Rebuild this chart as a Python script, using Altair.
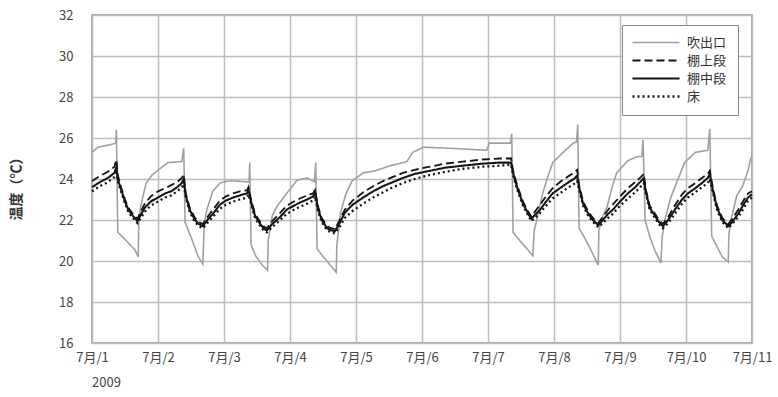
import json
import altair as alt
import pandas as pd

# ---- data ----
series_names = ["吹出口", "棚上段", "棚中段", "床"]

outlet_day = [0.00, 0.09, 0.24, 0.36, 0.37, 0.39, 0.50, 0.65, 0.70, 0.71, 0.74, 0.82, 0.91, 1.03,
              1.15, 1.36, 1.39, 1.41, 1.52, 1.61, 1.68, 1.70, 1.74, 1.83, 1.94, 2.05, 2.18, 2.38,
              2.39, 2.41, 2.48, 2.58, 2.66, 2.67, 2.73, 2.80, 2.95, 3.11, 3.26, 3.37, 3.39, 3.41,
              3.48, 3.56, 3.70, 3.71, 3.77, 3.85, 3.94, 4.11, 4.29, 4.52, 4.77, 4.86, 5.02, 5.42,
              5.98, 6.02, 6.34, 6.36, 6.38, 6.48, 6.59, 6.68, 6.70, 6.74, 6.82, 6.89, 6.98, 7.14,
              7.29, 7.34, 7.36, 7.38, 7.47, 7.58, 7.67, 7.68, 7.73, 7.80, 7.88, 7.95, 8.12, 8.27,
              8.33, 8.35, 8.38, 8.45, 8.53, 8.62, 8.64, 8.68, 8.76, 8.83, 8.98, 9.14, 9.33, 9.36,
              9.39, 9.47, 9.55, 9.64, 9.65, 9.68, 9.77, 9.85, 9.94, 9.98, 10.00]
outlet_temp = [25.3, 25.55, 25.65, 25.75, 26.4, 21.4, 21.05, 20.55, 20.2, 22.0, 22.7, 23.8, 24.2, 24.5,
               24.8, 24.85, 25.5, 21.9, 21.0, 20.2, 19.85, 21.8, 22.5, 23.4, 23.8, 23.9, 23.9, 23.85,
               24.8, 20.8, 20.25, 19.8, 19.55, 21.0, 22.2, 22.65, 23.3, 23.95, 24.05, 23.87, 24.8, 20.6,
               20.3, 20.0, 19.45, 20.8, 22.4, 23.3, 23.9, 24.3, 24.4, 24.65, 24.85, 25.3, 25.55, 25.5,
               25.4, 25.75, 25.75, 26.2, 21.4, 21.0, 20.6, 20.25, 21.5, 22.0, 23.2, 23.95, 24.8, 25.3,
               25.75, 25.8, 26.65, 21.6, 21.1, 20.4, 19.8, 21.5, 22.1, 22.6, 23.6, 24.3, 24.9, 25.1,
               25.1, 25.9, 22.0, 21.2, 20.5, 19.9, 21.2, 22.0, 23.0, 23.6, 24.8, 25.3, 25.4, 26.45,
               21.2, 20.7, 20.2, 19.95, 21.3, 22.0, 23.2, 23.6, 24.4, 25.0, 25.1]

shelf_day = [0.00, 0.12, 0.24, 0.34, 0.37, 0.39, 0.44, 0.50, 0.55, 0.62, 0.69, 0.73, 0.80, 0.89,
             1.00, 1.11, 1.20, 1.29, 1.36, 1.39, 1.42, 1.48, 1.56, 1.62, 1.68, 1.76, 1.83, 1.94,
             2.03, 2.14, 2.24, 2.35, 2.37, 2.41, 2.47, 2.55, 2.61, 2.65, 2.73, 2.85, 2.95, 3.06,
             3.15, 3.26, 3.35, 3.38, 3.42, 3.48, 3.56, 3.62, 3.68, 3.76, 3.83, 3.95, 4.11, 4.26,
             4.41, 4.56, 4.71, 4.89, 5.12, 5.35, 5.62, 5.92, 6.18, 6.35, 6.38, 6.44, 6.53, 6.61,
             6.66, 6.71, 6.79, 6.88, 6.98, 7.09, 7.20, 7.30, 7.35, 7.38, 7.44, 7.52, 7.59, 7.67,
             7.74, 7.82, 7.89, 8.00, 8.12, 8.23, 8.32, 8.36, 8.39, 8.45, 8.53, 8.59, 8.65, 8.73,
             8.83, 8.94, 9.03, 9.14, 9.24, 9.33, 9.36, 9.41, 9.47, 9.55, 9.64, 9.70, 9.79, 9.88,
             9.94, 10.00]
upper_temp = [23.9, 24.15, 24.35, 24.6, 24.95, 24.2, 23.6, 23.0, 22.6, 22.3, 22.05, 22.35, 22.8, 23.15,
              23.4, 23.55, 23.7, 23.85, 24.05, 24.2, 23.3, 22.6, 22.1, 21.9, 21.8, 22.2, 22.5, 22.95,
              23.15, 23.3, 23.4, 23.45, 23.6, 23.0, 22.3, 21.9, 21.65, 21.6, 21.95, 22.35, 22.7, 22.9,
              23.05, 23.2, 23.3, 23.5, 22.7, 22.1, 21.7, 21.6, 21.55, 22.05, 22.5, 22.95, 23.35, 23.65,
              23.9, 24.1, 24.3, 24.45, 24.6, 24.75, 24.85, 24.95, 25.0, 25.0, 24.4, 23.7, 22.9, 22.4,
              22.15, 22.4, 22.75, 23.15, 23.55, 23.85, 24.1, 24.3, 24.45, 23.7, 22.9, 22.4, 22.1, 21.85,
              22.15, 22.5, 22.75, 23.15, 23.55, 23.85, 24.1, 24.25, 23.5, 22.7, 22.3, 22.0, 21.8, 22.15,
              22.7, 23.25, 23.55, 23.8, 24.05, 24.25, 24.4, 23.5, 22.7, 22.1, 21.8, 22.05, 22.5, 23.0,
              23.3, 23.4]
middle_temp = [23.6, 23.85, 24.05, 24.3, 24.6, 24.0, 23.5, 22.9, 22.5, 22.2, 21.95, 22.2, 22.6, 22.9,
               23.1, 23.3, 23.4, 23.6, 23.8, 24.0, 23.2, 22.5, 22.0, 21.8, 21.7, 22.05, 22.3, 22.75,
               22.95, 23.1, 23.2, 23.3, 23.5, 22.9, 22.2, 21.8, 21.55, 21.5, 21.8, 22.15, 22.5, 22.7,
               22.85, 23.0, 23.15, 23.4, 22.6, 22.0, 21.6, 21.5, 21.45, 21.9, 22.35, 22.75, 23.1, 23.4,
               23.65, 23.85, 24.05, 24.25, 24.4, 24.55, 24.65, 24.75, 24.8, 24.8, 24.3, 23.6, 22.8, 22.3,
               22.05, 22.25, 22.5, 22.9, 23.3, 23.55, 23.8, 24.0, 24.15, 23.6, 22.8, 22.3, 22.0, 21.75,
               22.0, 22.3, 22.5, 22.9, 23.3, 23.6, 23.9, 24.05, 23.4, 22.6, 22.2, 21.9, 21.7, 22.0,
               22.5, 23.0, 23.3, 23.55, 23.8, 24.05, 24.25, 23.4, 22.6, 22.0, 21.7, 21.9, 22.3, 22.8,
               23.1, 23.25]
floor_temp = [23.4, 23.65, 23.85, 24.1, 24.3, 23.9, 23.4, 22.8, 22.4, 22.1, 21.85, 22.05, 22.4, 22.7,
              22.9, 23.1, 23.2, 23.4, 23.6, 23.75, 23.1, 22.4, 21.9, 21.7, 21.6, 21.9, 22.15, 22.55,
              22.75, 22.9, 23.0, 23.1, 23.25, 22.8, 22.1, 21.7, 21.45, 21.4, 21.65, 22.0, 22.3, 22.5,
              22.65, 22.8, 22.95, 23.15, 22.5, 21.9, 21.5, 21.4, 21.35, 21.7, 22.1, 22.45, 22.8, 23.1,
              23.35, 23.6, 23.8, 24.0, 24.2, 24.35, 24.5, 24.6, 24.65, 24.7, 24.2, 23.5, 22.7, 22.2,
              21.95, 22.1, 22.35, 22.7, 23.05, 23.3, 23.55, 23.75, 23.9, 23.5, 22.7, 22.2, 21.9, 21.65,
              21.85, 22.1, 22.3, 22.7, 23.05, 23.35, 23.65, 23.8, 23.3, 22.5, 22.1, 21.8, 21.6, 21.85,
              22.3, 22.8, 23.1, 23.35, 23.6, 23.8, 24.0, 23.3, 22.5, 21.9, 21.6, 21.8, 22.15, 22.6,
              22.95, 23.1]

x_tick_days = [0, 1, 2, 3, 4, 5, 6, 7, 8, 9, 10]
x_tick_labels = ["7月/1", "7月/2", "7月/3", "7月/4", "7月/5", "7月/6",
                 "7月/7", "7月/8", "7月/9", "7月/10", "7月/11"]
y_ticks = [16, 18, 20, 22, 24, 26, 28, 30, 32]
year_label = ["2009"]
y_title = "温度（℃）"

# ---- table ----
rows = []
for d, t in zip(outlet_day, outlet_temp):
    rows.append({"day": d, "temp": t, "series": series_names[0]})
for vals, name in [(upper_temp, series_names[1]), (middle_temp, series_names[2]), (floor_temp, series_names[3])]:
    for d, t in zip(shelf_day, vals):
        rows.append({"day": d, "temp": t, "series": name})
df = pd.DataFrame(rows)

FONT = "Noto Sans CJK JP"

color_scale = alt.Scale(domain=series_names, range=["#a0a0a0", "#151515", "#151515", "#151515"])
dash_scale = alt.Scale(domain=series_names, range=[[1, 0], [8, 4], [1, 0], [2, 3]])
width_scale = alt.Scale(domain=series_names, range=[1.6, 2.3, 2.7, 2.3])

legend = alt.Legend(
    title=None, orient="none", legendX=530, legendY=10,
    symbolType="M-4.7,0H4.7", symbolSize=100, symbolOffset=16.5,
    labelOffset=24.5, padding=11, rowPadding=4,
    fillColor="white", strokeColor="#8a8a8a",
    labelFont=FONT, labelFontSize=13, labelColor="#333333",
)

x_enc = alt.X("day:Q", scale=alt.Scale(domain=[0, 10], nice=False),
              axis=alt.Axis(values=x_tick_days, title=None, ticks=False, domain=False,
                            labelExpr=json.dumps(x_tick_labels) + "[datum.value]",
                            labelFont=FONT, labelFontSize=13, labelColor="#444444",
                            labelPadding=8, gridColor="#bdbdbd", gridWidth=1.5,
                            labelFlush=False))
y_enc = alt.Y("temp:Q", scale=alt.Scale(domain=[16, 32], nice=False, zero=False),
              axis=alt.Axis(values=y_ticks, title=y_title, ticks=False, domain=False,
                            labelFont=FONT, labelFontSize=13, labelColor="#444444",
                            labelPadding=19, gridColor="#bdbdbd", gridWidth=1.5,
                            titleFont=FONT, titleFontSize=14, titleFontWeight="bold",
                            titleColor="#333333", titleAngle=-90, titleX=-76, titleY=170,
                            titleAlign="center", titleBaseline="middle"))

common = dict(
    color=alt.Color("series:N", scale=color_scale, legend=legend),
    strokeDash=alt.StrokeDash("series:N", scale=dash_scale, legend=legend),
    strokeWidth=alt.StrokeWidth("series:N", scale=width_scale, legend=legend),
)

base = alt.Chart(df)
outlet_layer = base.transform_filter(alt.datum.series == series_names[0]).mark_line().encode(
    x=x_enc, y=y_enc, **common)
shelf_layer = base.transform_filter(alt.datum.series != series_names[0]).mark_line().encode(
    x=x_enc, y=y_enc, **common)

year_layer = alt.Chart(pd.DataFrame({"day": [0], "label": year_label})).mark_text(
    align="left", baseline="middle", dy=40, font=FONT, fontSize=13, color="#444444"
).encode(x="day:Q", y=alt.datum(16), text="label:N")

chart = alt.layer(outlet_layer, shelf_layer, year_layer).properties(
    width=660, height=328,
    autosize=alt.AutoSizeParams(type="none"),
    padding={"left": 92, "top": 15, "right": 26, "bottom": 54},
    background="white",
).configure_view(stroke="#8f8f8f", strokeWidth=1.5)

chart.save("out.html", embed_options={"renderer": "svg", "actions": False})
